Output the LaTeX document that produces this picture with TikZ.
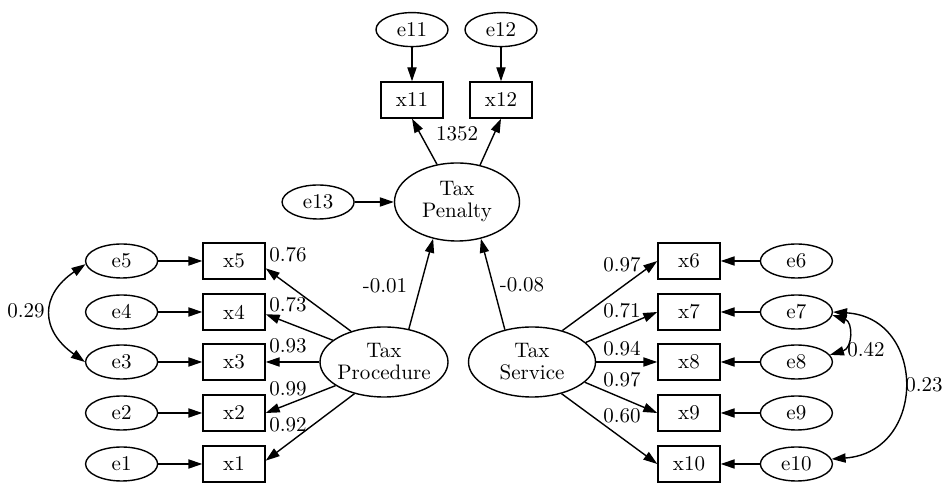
\documentclass[tikz,border=0pt]{standalone}
\usetikzlibrary{positioning, shapes.geometric, arrows.meta}
\tikzset{
	every node/.append style={
		font=\fontsize{10.5}{11}\selectfont,
	},
	obsbox/.append style={
		draw,
		minimum width=31pt,
		minimum height=18pt,
		inner sep=0pt,
	},
	err/.append style={
		draw,
		ellipse,
		minimum width=36pt,
		minimum height=17pt,
		inner sep=0pt,
	},
	latent/.append style={
		draw,
		ellipse,
		align = center,
		inner sep=0pt,
		inner xsep=-1pt,
	},
	coef/.append style={
		inner sep=0pt,
	}
}

\begin{document}
\begin{tikzpicture}[x=0.5pt, y=-0.5pt, line width=0.7pt, >={Triangle[length=7pt, width=4.6pt]}]

\useasboundingbox (0,0) rectangle (949,485);

% latent variables
\node(tpen)[latent, minimum width=62.5pt, minimum height=39pt] at (457,202) {Tax\\Penalty};
\node(tproc)[latent, minimum width=64pt, minimum height=35pt] at (384,362) {Tax\\Procedure};
\node(tserv)[latent, minimum width=63.5pt, minimum height=35pt] at (532,362) {Tax\\Service};

\node(e13)[err, left = 19.5pt of tpen] {e13};
\draw[->] (e13) -- (tpen);

\draw[->] (tproc.53) -- (tpen.237);
\node(cproc)[coef] at (385,286) {-0.01};
\draw[->] (tserv.130) -- (tpen.303);
\node(cserv)[coef] at (522,285) {-0.08};

% penalty indicators
\node(x11)[obsbox] at (412,100) {x11};
\node(x12)[obsbox] at (501,100) {x12};
\node(e11)[err, above = 17pt of x11] {e11};
\node(e12)[err, above = 17pt of x12] {e12};
\draw[->] (e11) -- (x11);
\draw[->] (e12) -- (x12);
\draw[->] (tpen.118) -- (x11.south);
\draw[->] (tpen.58) -- (x12.south);
\node(cpen)[coef] at (457,134) {1352};

% procedure indicators
\node(x5)[obsbox] at (234,261) {x5};
\node(x4)[obsbox] at (234,312) {x4};
\node(x3)[obsbox] at (234,362) {x3};
\node(x2)[obsbox] at (234,413) {x2};
\node(x1)[obsbox] at (234,464) {x1};

\node(e5)[err, left = 22pt of x5] {e5};
\node(e4)[err, left = 22pt of x4] {e4};
\node(e3)[err, left = 22pt of x3] {e3};
\node(e2)[err, left = 22pt of x2] {e2};
\node(e1)[err, left = 22pt of x1] {e1};

\draw[->] (e5) -- (x5);
\draw[->] (e4) -- (x4);
\draw[->] (e3) -- (x3);
\draw[->] (e2) -- (x2);
\draw[->] (e1) -- (x1);

\draw[->] (tproc.137) -- (x5.-13);
\draw[->] (tproc.157) -- (x4.-4);
\draw[->] (tproc.west) -- (x3.east);
\draw[->] (tproc.206) -- (x2.east);
\draw[->] (tproc.227) -- (x1.6);

\node(c5)[coef] at (288,255) {0.76};
\node(c4)[coef] at (288,305) {0.73};
\node(c3)[coef] at (288,346) {0.93};
\node(c2)[coef] at (288,389) {0.99};
\node(c1)[coef] at (288,425) {0.92};

\draw[<->] (e5.185) .. controls (40,295) and (40,330) .. (e3.west);
\node(c53)[coef] at (26,311) {0.29};

% service indicators
\node(x6)[obsbox] at (689,261) {x6};
\node(x7)[obsbox] at (689,312) {x7};
\node(x8)[obsbox] at (689,362) {x8};
\node(x9)[obsbox] at (689,413) {x9};
\node(x10)[obsbox] at (689,464) {x10};

\node(e6)[err, right = 19.5pt of x6] {e6};
\node(e7)[err, right = 19.5pt of x7] {e7};
\node(e8)[err, right = 19.5pt of x8] {e8};
\node(e9)[err, right = 19.5pt of x9] {e9};
\node(e10)[err, right = 19.5pt of x10] {e10};

\draw[->] (e6) -- (x6);
\draw[->] (e7) -- (x7);
\draw[->] (e8) -- (x8);
\draw[->] (e9) -- (x9);
\draw[->] (e10) -- (x10);

\draw[->] (tserv.46) -- (x6.west);
\draw[->] (tserv.20) -- (x7.west);
\draw[->] (tserv.east) -- (x8.west);
\draw[->] (tserv.-21) -- (x9.west);
\draw[->] (tserv.-47) -- (x10.west);

\node(c6)[coef] at (622,265) {0.97};
\node(c7)[coef] at (622,311) {0.71};
\node(c8)[coef] at (622,349) {0.94};
\node(c9)[coef] at (622,380) {0.97};
\node(c10)[coef] at (622,416) {0.60};

\draw[<->] (e7.-5) .. controls (853,322) and (853,348) .. (e8.12);
\node(c78)[coef] at (866,350) {0.42};
\draw[<->] (e7.east) .. controls (927,318) and (927,452) .. (e10.8);
\node(c710)[coef] at (924,385) {0.23};

\end{tikzpicture}
\end{document}
